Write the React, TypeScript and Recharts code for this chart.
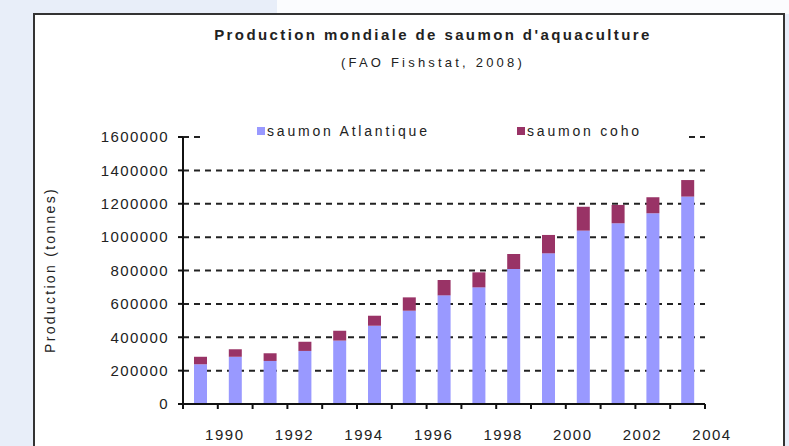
import { Bar, BarChart, CartesianGrid, XAxis, YAxis } from "recharts";

const years = [1989, 1990, 1991, 1992, 1993, 1994, 1995, 1996, 1997, 1998, 1999, 2000, 2001, 2002, 2003];
const atlantique = [238000, 283000, 258000, 318000, 380000, 469000, 559000, 651000, 699000, 809000, 903000, 1039000, 1083000, 1143000, 1243000];
const coho = [45000, 45000, 46000, 55000, 59000, 60000, 80000, 92000, 90000, 90000, 110000, 143000, 110000, 96000, 99000];
const xTicks = [1989, 1990, 1991, 1992, 1993, 1994, 1995, 1996, 1997, 1998, 1999, 2000, 2001, 2002, 2003, 2004];
const yTicks = [0, 200000, 400000, 600000, 800000, 1000000, 1200000, 1400000, 1600000];

const BLUE = "#9999ff";
const COHO = "#993366";
const FONT = "Arial, 'Liberation Sans', sans-serif";

// bars sit in the middle of each year slot
const data = years.map((y, i) => ({ x: y + 0.5, atlantique: atlantique[i], coho: coho[i] }));

function YearTick({ x, y, payload }: any) {
    const v = payload.value as number;
    if (v % 2 !== 0) return null;
    return (
        <text x={x + 7} y={y + 29} textAnchor="middle" fontFamily={FONT} fontSize={15} letterSpacing={1.5} fill="#222">
            {v}
        </text>
    );
}

function LegendItem({ color, label, left }: { color: string; label: string; left: number }) {
    return (
        <div style={{ position: "absolute", left, top: 0, display: "flex", alignItems: "center", height: 22 }}>
            <span style={{ width: 8, height: 8, background: color, marginRight: 2 }} />
            <span style={{ fontFamily: FONT, fontSize: 14, letterSpacing: 2.8, color: "#222" }}>{label}</span>
        </div>
    );
}

export default function App() {
    return (
        <div style={{ position: "fixed", left: 0, top: 0, width: 789, height: 446, background: "#e8eef9", overflow: "hidden" }}>
            <div style={{ position: "absolute", left: 277, top: 0, width: 512, height: 14, background: "#fbfcfe" }} />
            <div
                style={{
                    position: "absolute",
                    left: 33,
                    top: 13,
                    width: 748,
                    height: 450,
                    background: "#fff",
                    border: "2px solid #333",
                }}
            />
            <div
                style={{
                    position: "absolute",
                    left: 0,
                    width: 866,
                    top: 26,
                    textAlign: "center",
                    fontFamily: FONT,
                    fontSize: 15,
                    fontWeight: "bold",
                    letterSpacing: 2.4,
                    color: "#222",
                }}
            >
                Production mondiale de saumon d'aquaculture
            </div>
            <div
                style={{
                    position: "absolute",
                    left: 0,
                    width: 866,
                    top: 55,
                    textAlign: "center",
                    fontFamily: FONT,
                    fontSize: 13,
                    letterSpacing: 3.2,
                    color: "#222",
                }}
            >
                (FAO Fishstat, 2008)
            </div>
            <div
                style={{
                    position: "absolute",
                    left: 50,
                    top: 270,
                    transform: "translate(-50%, -50%) rotate(-90deg)",
                    whiteSpace: "nowrap",
                    fontFamily: FONT,
                    fontSize: 14,
                    letterSpacing: 2.3,
                    color: "#222",
                }}
            >
                Production (tonnes)
            </div>
            <div style={{ position: "absolute", left: 0, top: 0 }}>
                <BarChart width={789} height={446} data={data} margin={{ top: 137, right: 84, left: 103, bottom: 12 }}>
                    <CartesianGrid vertical={false} stroke="#222" strokeWidth={2} strokeDasharray="6 5" />
                    <XAxis
                        dataKey="x"
                        type="number"
                        domain={[1989, 2004]}
                        ticks={xTicks}
                        interval={0}
                        height={30}
                        axisLine={{ stroke: "#111", strokeWidth: 2 }}
                        tickLine={{ stroke: "#111", strokeWidth: 2 }}
                        tickSize={5}
                        tick={<YearTick />}
                    />
                    <YAxis
                        domain={[0, 1600000]}
                        ticks={yTicks}
                        interval={0}
                        width={80}
                        axisLine={{ stroke: "#111", strokeWidth: 2 }}
                        tickLine={{ stroke: "#111", strokeWidth: 2 }}
                        tickSize={5}
                        tickMargin={9}
                        tick={{ fontFamily: FONT, fontSize: 15, letterSpacing: 1.4, fill: "#222" }}
                    />
                    <Bar dataKey="atlantique" stackId="s" fill={BLUE} barSize={13} isAnimationActive={false} />
                    <Bar dataKey="coho" stackId="s" fill={COHO} barSize={13} isAnimationActive={false} />
                </BarChart>
            </div>
            <div style={{ position: "absolute", left: 205, top: 120, width: 480, height: 24, background: "#fff" }}>
                <LegendItem color={BLUE} label="saumon Atlantique" left={52} />
                <LegendItem color={COHO} label="saumon coho" left={312} />
            </div>
        </div>
    );
}
